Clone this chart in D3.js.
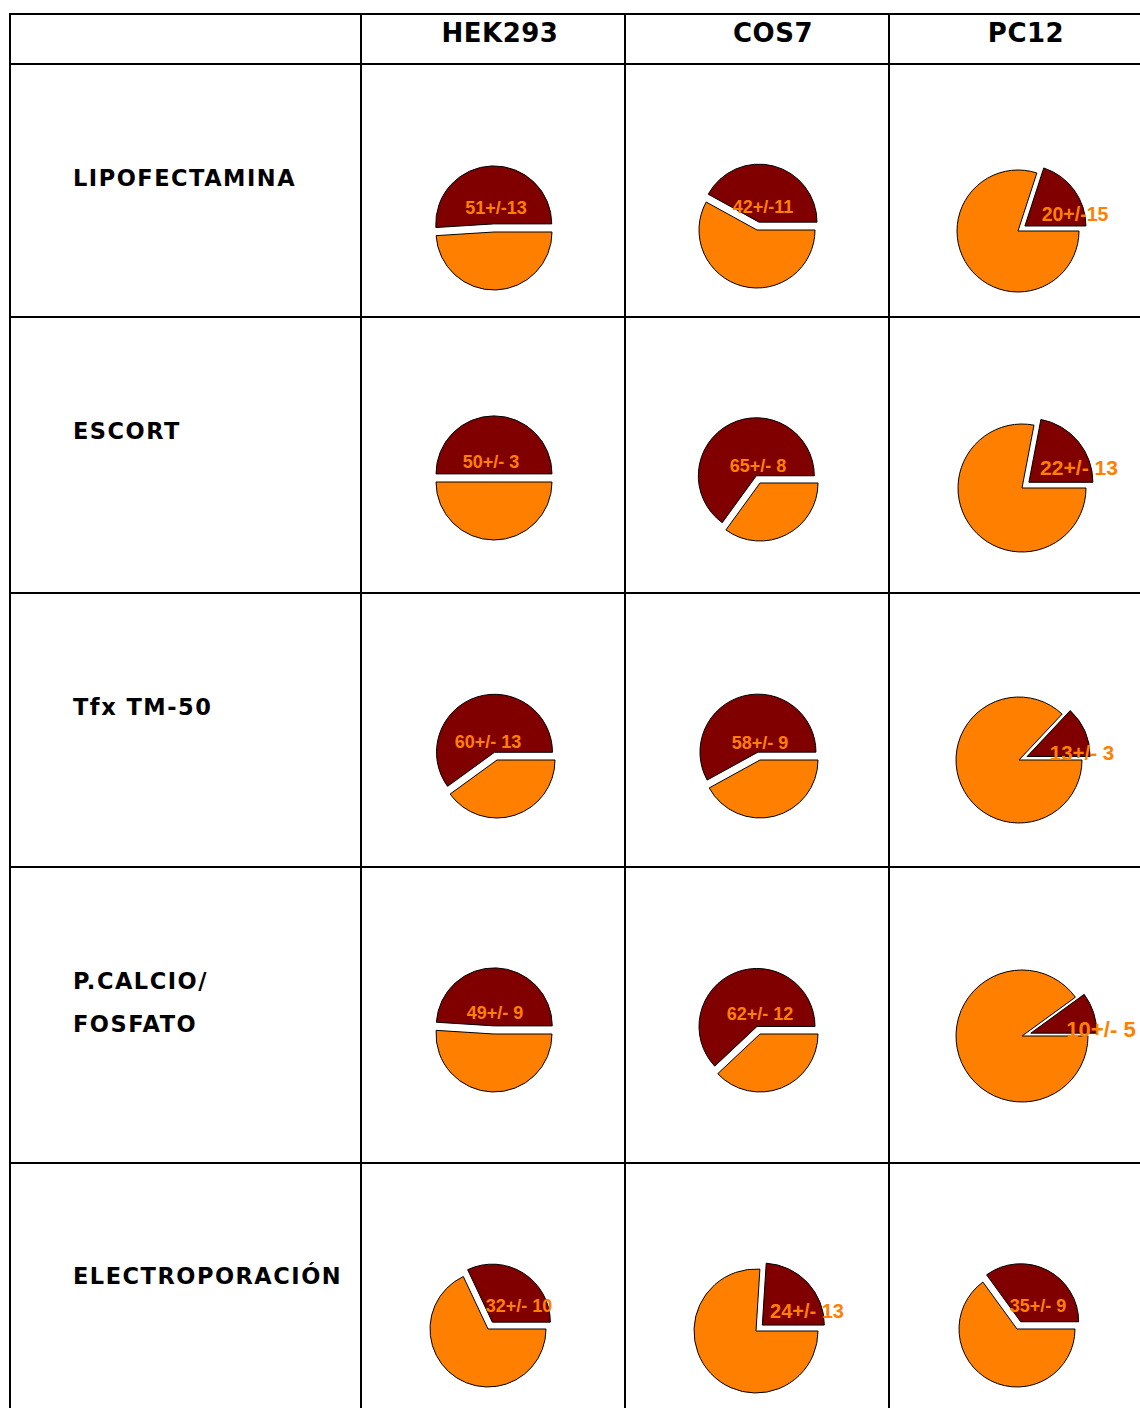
<!DOCTYPE html>
<html>
<head>
<meta charset="utf-8">
<script src="https://cdn.jsdelivr.net/npm/d3@7"></script>
<style>
  html, body { margin: 0; padding: 0; background: #fff; }
  svg { display: block; }
</style>
</head>
<body>
<svg id="chart" width="1140" height="1408"></svg>
<script>
// ---------------- DATA ----------------
const cellLines = ["HEK293", "COS7", "PC12"];
const methods = ["LIPOFECTAMINA", "ESCORT", "Tfx TM-50", "P.CALCIO/|FOSFATO", "ELECTROPORACIÓN"];

// % transfection efficiency (mean) and deviation, per cell line, per method
const hek293Mean = [51, 50, 60, 49, 32];
const hek293Err  = [13, 3, 13, 9, 10];
const cos7Mean   = [42, 65, 58, 62, 24];
const cos7Err    = [11, 8, 9, 12, 13];
const pc12Mean   = [20, 22, 13, 10, 35];
const pc12Err    = [15, 13, 3, 5, 9];

// label separator used in the original (first row has no space)
const labelSep = ["+/-", "+/- ", "+/- ", "+/- ", "+/- "];

// ---------------- LAYOUT (positions / sizes, not data) ----------------
const colX = [10, 361, 625, 889, 1140];
const rowY = [14, 64, 317, 593, 867, 1163, 1408];
const headerX = [500, 773, 1026];
const headerBaseline = 42;
const rowLabelX = 73;
const rowLabelBaselines = [[186], [439], [715], [989, 1032], [1284]];

// pie centre (cx, cy), radius, label centre (lx, ly) per [method][cellLine]
const pieLayout = [
  [[494, 232, 58, 496, 208], [757, 230, 58, 763, 207], [1018, 231, 61, 1075, 214]],
  [[494, 482, 58, 491, 462], [760, 483, 58, 758, 466], [1022, 488, 64, 1079, 467]],
  [[497, 760, 58, 488, 742], [760, 760, 58, 760, 743], [1019, 760, 63, 1082, 752]],
  [[494, 1034, 58, 495, 1013], [760, 1034, 58, 760, 1014], [1022, 1036, 66, 1101, 1029]],
  [[488, 1329, 58, 519, 1306], [756, 1331, 62, 807, 1311], [1017, 1329, 58, 1038, 1306]]
];

const DARK = "#800000";
const ORANGE = "#FF8000";

// ---------------- DRAW ----------------
const svg = d3.select("#chart");
const means = [hek293Mean, cos7Mean, pc12Mean];
const errs = [hek293Err, cos7Err, pc12Err];

// table grid
const grid = svg.append("g").attr("stroke", "#000").attr("stroke-width", 2);
rowY.slice(0, -1).forEach(y => {
  grid.append("line").attr("x1", colX[0] - 1).attr("x2", 1140).attr("y1", y).attr("y2", y);
});
colX.slice(0, -1).forEach(x => {
  grid.append("line").attr("x1", x).attr("x2", x).attr("y1", rowY[0] - 1).attr("y2", 1408);
});

// headers
svg.append("g").selectAll("text").data(cellLines).join("text")
  .attr("x", (d, i) => headerX[i])
  .attr("y", headerBaseline)
  .attr("text-anchor", "middle")
  .attr("font-family", "'DejaVu Sans', Verdana, sans-serif")
  .attr("font-weight", "bold")
  .attr("font-size", 26)
  .attr("letter-spacing", 0.5)
  .attr("fill", "#000")
  .text(d => d);

// row labels
methods.forEach((m, i) => {
  m.split("|").forEach((part, k) => {
    svg.append("text")
      .attr("x", rowLabelX)
      .attr("y", rowLabelBaselines[i][k])
      .attr("font-family", "'DejaVu Sans', Verdana, sans-serif")
      .attr("font-weight", "bold")
      .attr("font-size", 22.5)
      .attr("letter-spacing", 1.5)
      .attr("fill", "#000")
      .text(part);
  });
});

// pies
const pie = d3.pie().sort(null).value(d => d)
  .startAngle(Math.PI / 2).endAngle(Math.PI / 2 - 2 * Math.PI);

methods.forEach((m, i) => {
  cellLines.forEach((c, j) => {
    const v = means[j][i];
    const [cx, cy, r, lx, ly] = pieLayout[i][j];
    const arc = d3.arc().innerRadius(0).outerRadius(r);
    const arcs = pie([v, 100 - v]);
    const g = svg.append("g").attr("transform", `translate(${cx},${cy})`);
    const explode = 0.14 * r;
    arcs.forEach((a, k) => {
      let dx = 0, dy = 0;
      if (k === 0) {
        const mid = (a.startAngle + a.endAngle) / 2;
        dx = Math.sin(mid) * explode;
        dy = -Math.cos(mid) * explode;
      }
      g.append("path")
        .attr("d", arc(a))
        .attr("transform", `translate(${dx},${dy})`)
        .attr("fill", k === 0 ? DARK : ORANGE)
        .attr("stroke", "#000")
        .attr("stroke-width", 1)
        .attr("stroke-linejoin", "round");
    });
    const fs = 18 * Math.pow(r / 58, 1.6);
    svg.append("text")
      .attr("x", lx)
      .attr("y", ly)
      .attr("text-anchor", "middle")
      .attr("dominant-baseline", "central")
      .attr("font-family", "'Liberation Sans', Arial, sans-serif")
      .attr("font-weight", "bold")
      .attr("font-size", fs.toFixed(1))
      .attr("fill", ORANGE)
      .text(`${v}${labelSep[i]}${errs[j][i]}`);
  });
});
</script>
</body>
</html>
